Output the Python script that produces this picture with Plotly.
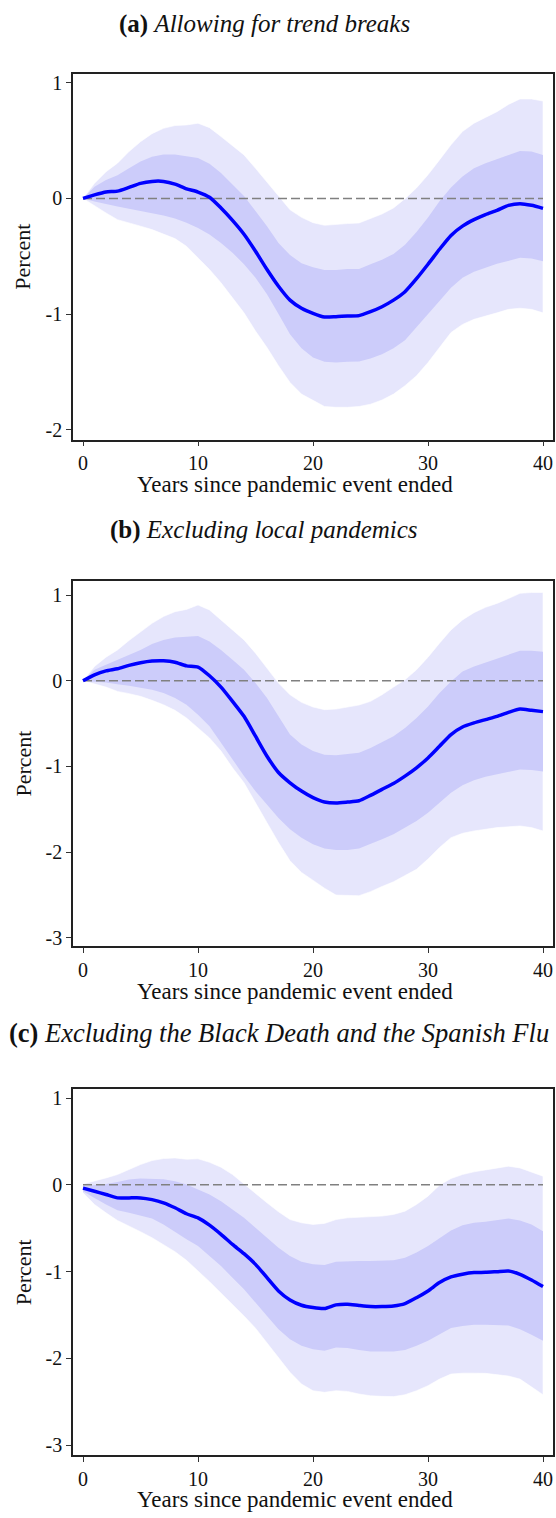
import plotly.graph_objects as go

years = list(range(0, 41))

# ---------- Panel (a) Allowing for trend breaks ----------
a_mid = [0, 0.03, 0.055, 0.063, 0.095, 0.13, 0.147, 0.147, 0.124, 0.083, 0.055, 0.01, -0.083, -0.19, -0.31,
         -0.457, -0.615, -0.76, -0.88, -0.95, -0.994, -1.026, -1.023, -1.017, -1.014, -0.98, -0.937, -0.88,
         -0.807, -0.695, -0.57, -0.44, -0.32, -0.24, -0.184, -0.14, -0.103, -0.06, -0.046, -0.06, -0.086]
a_in_hi = [0, 0.10, 0.16, 0.20, 0.26, 0.32, 0.36, 0.38, 0.38, 0.365, 0.35, 0.30, 0.22, 0.12, 0.02, -0.11,
           -0.24, -0.385, -0.49, -0.56, -0.595, -0.62, -0.62, -0.61, -0.61, -0.57, -0.53, -0.48, -0.40,
           -0.29, -0.165, -0.025, 0.095, 0.19, 0.26, 0.305, 0.34, 0.38, 0.41, 0.405, 0.375]
a_in_lo = [0, -0.026, -0.05, -0.07, -0.09, -0.11, -0.126, -0.147, -0.175, -0.21, -0.256, -0.313, -0.385,
           -0.47, -0.57, -0.687, -0.83, -1.0, -1.175, -1.296, -1.376, -1.414, -1.42, -1.414, -1.41, -1.385,
           -1.348, -1.296, -1.227, -1.118, -1.0, -0.888, -0.773, -0.687, -0.635, -0.60, -0.566, -0.537,
           -0.514, -0.52, -0.543]
a_out_hi = [0, 0.13, 0.23, 0.305, 0.405, 0.49, 0.56, 0.606, 0.63, 0.635, 0.65, 0.612, 0.535, 0.457, 0.376,
            0.26, 0.14, 0.017, -0.098, -0.164, -0.21, -0.233, -0.224, -0.218, -0.213, -0.175, -0.135, -0.083,
            -0.003, 0.09, 0.204, 0.333, 0.463, 0.578, 0.65, 0.70, 0.75, 0.813, 0.86, 0.86, 0.842]
a_out_lo = [0, -0.06, -0.126, -0.184, -0.213, -0.24, -0.27, -0.307, -0.348, -0.414, -0.514, -0.615, -0.73,
            -0.86, -0.99, -1.147, -1.29, -1.448, -1.592, -1.693, -1.75, -1.80, -1.807, -1.807, -1.80, -1.78,
            -1.744, -1.693, -1.62, -1.534, -1.42, -1.29, -1.16, -1.09, -1.046, -1.017, -0.99, -0.96, -0.95,
            -0.96, -0.99]

# ---------- Panel (b) Excluding local pandemics ----------
b_mid = [0, 0.07, 0.116, 0.14, 0.18, 0.21, 0.23, 0.233, 0.217, 0.174, 0.16, 0.058, -0.074, -0.24, -0.415,
         -0.647, -0.88, -1.07, -1.19, -1.287, -1.364, -1.415, -1.426, -1.415, -1.40, -1.337, -1.267, -1.198,
         -1.112, -1.015, -0.9, -0.764, -0.628, -0.54, -0.492, -0.453, -0.415, -0.368, -0.33, -0.345, -0.36]
b_in_hi = [0, 0.128, 0.186, 0.244, 0.30, 0.36, 0.43, 0.477, 0.504, 0.515, 0.523, 0.457, 0.36, 0.244, 0.128,
           -0.027, -0.2, -0.415, -0.628, -0.744, -0.82, -0.864, -0.868, -0.853, -0.84, -0.783, -0.717, -0.647,
           -0.55, -0.434, -0.3, -0.143, -0.008, 0.108, 0.167, 0.213, 0.252, 0.3, 0.35, 0.35, 0.34]
b_in_lo = [0, -0.012, -0.02, -0.04, -0.058, -0.078, -0.105, -0.143, -0.2, -0.28, -0.395, -0.53, -0.725,
           -0.92, -1.11, -1.29, -1.445, -1.6, -1.733, -1.83, -1.907, -1.957, -1.973, -1.973, -1.957, -1.907,
           -1.85, -1.79, -1.713, -1.636, -1.54, -1.424, -1.306, -1.22, -1.16, -1.12, -1.093, -1.066, -1.035,
           -1.04, -1.058]
b_out_hi = [0, 0.167, 0.275, 0.36, 0.47, 0.574, 0.67, 0.75, 0.806, 0.833, 0.884, 0.826, 0.71, 0.593, 0.477,
            0.322, 0.147, -0.027, -0.163, -0.252, -0.306, -0.337, -0.33, -0.306, -0.283, -0.24, -0.163,
            -0.074, 0.012, 0.128, 0.275, 0.438, 0.593, 0.71, 0.795, 0.857, 0.903, 0.96, 1.02, 1.03, 1.03]
b_out_lo = [0, -0.035, -0.074, -0.124, -0.15, -0.182, -0.228, -0.28, -0.345, -0.434, -0.55, -0.667, -0.82,
            -1.015, -1.19, -1.42, -1.655, -1.888, -2.1, -2.236, -2.333, -2.42, -2.5, -2.508, -2.508, -2.46,
            -2.4, -2.345, -2.275, -2.2, -2.08, -1.946, -1.83, -1.78, -1.752, -1.733, -1.713, -1.7, -1.694,
            -1.713, -1.752]

# ---------- Panel (c) Excluding the Black Death and the Spanish Flu ----------
c_mid = [-0.038, -0.073, -0.111, -0.15, -0.15, -0.15, -0.17, -0.207, -0.264, -0.333, -0.38, -0.464, -0.57,
         -0.686, -0.793, -0.916, -1.069, -1.222, -1.326, -1.387, -1.414, -1.425, -1.383, -1.375, -1.39,
         -1.402, -1.402, -1.395, -1.368, -1.3, -1.222, -1.126, -1.061, -1.03, -1.011, -1.008, -1.0, -0.992,
         -1.03, -1.096, -1.172]
c_in_hi = [-0.015, -0.004, 0.011, 0.034, 0.061, 0.073, 0.073, 0.065, 0.042, 0.004, -0.054, -0.111, -0.188,
           -0.284, -0.38, -0.494, -0.61, -0.724, -0.82, -0.885, -0.916, -0.923, -0.885, -0.877, -0.877,
           -0.877, -0.877, -0.87, -0.84, -0.78, -0.705, -0.61, -0.525, -0.464, -0.437, -0.425, -0.41, -0.387,
           -0.41, -0.456, -0.533]
c_in_lo = [-0.073, -0.15, -0.226, -0.291, -0.322, -0.352, -0.387, -0.456, -0.54, -0.628, -0.705, -0.82,
           -0.935, -1.069, -1.203, -1.356, -1.51, -1.663, -1.778, -1.854, -1.893, -1.912, -1.874, -1.881,
           -1.904, -1.92, -1.92, -1.92, -1.904, -1.854, -1.797, -1.72, -1.65, -1.625, -1.613, -1.613, -1.613,
           -1.62, -1.663, -1.728, -1.797]
c_out_hi = [0.011, 0.042, 0.08, 0.119, 0.176, 0.234, 0.28, 0.303, 0.31, 0.295, 0.3, 0.26, 0.203, 0.119,
            0.011, -0.103, -0.207, -0.31, -0.4, -0.437, -0.456, -0.444, -0.4, -0.38, -0.372, -0.372, -0.36,
            -0.341, -0.303, -0.226, -0.13, -0.004, 0.073, 0.119, 0.15, 0.172, 0.195, 0.215, 0.195, 0.15, 0.1]
c_out_lo = [-0.092, -0.226, -0.322, -0.41, -0.475, -0.54, -0.609, -0.686, -0.77, -0.87, -0.992, -1.115,
            -1.241, -1.375, -1.51, -1.651, -1.816, -1.989, -2.16, -2.295, -2.372, -2.39, -2.372, -2.38, -2.41,
            -2.43, -2.437, -2.44, -2.418, -2.372, -2.314, -2.238, -2.18, -2.17, -2.17, -2.172, -2.188, -2.203,
            -2.238, -2.326, -2.418]

panel_titles = ["<b>(a)</b> <i>Allowing for trend breaks</i>",
                "<b>(b)</b> <i>Excluding local pandemics</i>",
                "<b>(c)</b> <i>Excluding the Black Death and the Spanish Flu</i>"]
x_tickvals = [0, 10, 20, 30, 40]
x_ticktext = ["0", "10", "20", "30", "40"]
y_tickvals = [[-2, -1, 0, 1], [-3, -2, -1, 0, 1], [-3, -2, -1, 0, 1]]
y_ticktext = [["-2", "-1", "0", "1"], ["-3", "-2", "-1", "0", "1"], ["-3", "-2", "-1", "0", "1"]]
x_title = "Years since pandemic event ended"
y_title = "Percent"

# ---------- layout geometry (pixels) ----------
W, H = 556, 1518
FONT = "Liberation Serif"
LIGHT = "rgb(230,230,252)"
DARK = "rgb(204,204,250)"
LINE = "rgb(0,0,255)"

panels = [
    dict(mid=a_mid, ih=a_in_hi, il=a_in_lo, oh=a_out_hi, ol=a_out_lo, top=72, bot=439, yr=[-2.086, 1.078],
         title_y=22, title_x=264, title_anchor="center", title_size=25, xt_y=484),
    dict(mid=b_mid, ih=b_in_hi, il=b_in_lo, oh=b_out_hi, ol=b_out_lo, top=581, bot=947, yr=[-3.093, 1.163],
         title_y=530, title_x=264, title_anchor="center", title_size=25, xt_y=993),
    dict(mid=c_mid, ih=c_in_hi, il=c_in_lo, oh=c_out_hi, ol=c_out_lo, top=1091, bot=1458, yr=[-3.115, 1.10],
         title_y=1034, title_x=7, title_anchor="left", title_size=26.5, xt_y=1502),
]
LEFT, RIGHT = 73, 553
XT_CENTER = 295

fig = go.Figure()
annotations = []
for i, p in enumerate(panels):
    n = "" if i == 0 else str(i + 1)
    xa, ya = "x" + n, "y" + n
    fig.add_trace(go.Scatter(x=years + years[::-1], y=p["oh"] + p["ol"][::-1], fill="toself",
                             fillcolor=LIGHT, line=dict(color="rgba(255,255,255,0.6)", width=1),
                             mode="lines", hoverinfo="skip", showlegend=False, xaxis=xa, yaxis=ya))
    fig.add_trace(go.Scatter(x=years + years[::-1], y=p["ih"] + p["il"][::-1], fill="toself",
                             fillcolor=DARK, line=dict(width=0), mode="lines",
                             hoverinfo="skip", showlegend=False, xaxis=xa, yaxis=ya))
    fig.add_trace(go.Scatter(x=[years[0], years[-1]], y=[0, 0], mode="lines",
                             line=dict(color="rgb(128,128,128)", width=1.5, dash="9px,4px"),
                             hoverinfo="skip", showlegend=False, xaxis=xa, yaxis=ya))
    fig.add_trace(go.Scatter(x=years, y=p["mid"], mode="lines",
                             line=dict(color=LINE, width=3.5, shape="spline", smoothing=0.6),
                             showlegend=False, xaxis=xa, yaxis=ya))

    ydom = [1 - p["bot"] / H, 1 - p["top"] / H]
    axis_common = dict(showline=True, mirror=True, linecolor="#222", linewidth=1.5, ticks="outside",
                       ticklen=5, tickwidth=1.2, tickcolor="#333", showgrid=False, zeroline=False,
                       tickfont=dict(family=FONT, size=20, color="#111"))
    fig.update_layout(**{
        "xaxis" + n: dict(domain=[LEFT / W, RIGHT / W], range=[-0.87, 40.87], anchor=ya,
                          tickvals=x_tickvals, ticktext=x_ticktext, **axis_common),
        "yaxis" + n: dict(domain=ydom, range=p["yr"], anchor=xa,
                          tickvals=y_tickvals[i], ticktext=y_ticktext[i], **axis_common),
    })
    annotations.append(dict(text=panel_titles[i], x=p["title_x"] / W, y=1 - p["title_y"] / H,
                            xref="paper", yref="paper", xanchor=p["title_anchor"], yanchor="middle",
                            showarrow=False, font=dict(family=FONT, size=p["title_size"], color="#111")))
    annotations.append(dict(text=x_title, x=XT_CENTER / W, y=1 - p["xt_y"] / H,
                            xref="paper", yref="paper", xanchor="center", yanchor="middle",
                            showarrow=False, font=dict(family=FONT, size=23, color="#111")))
    annotations.append(dict(text=y_title, x=23 / W, y=1 - (p["top"] + p["bot"]) / 2 / H,
                            xref="paper", yref="paper", xanchor="center", yanchor="middle", textangle=-90,
                            showarrow=False, font=dict(family=FONT, size=22, color="#111")))

fig.update_layout(width=W, height=H, margin=dict(l=0, r=0, t=0, b=0), plot_bgcolor="white",
                  paper_bgcolor="white", annotations=annotations, showlegend=False)
fig.write_html("out.html", config={"displayModeBar": False},
               post_script="document.body.style.margin='0px';document.body.style.overflow='hidden';")
